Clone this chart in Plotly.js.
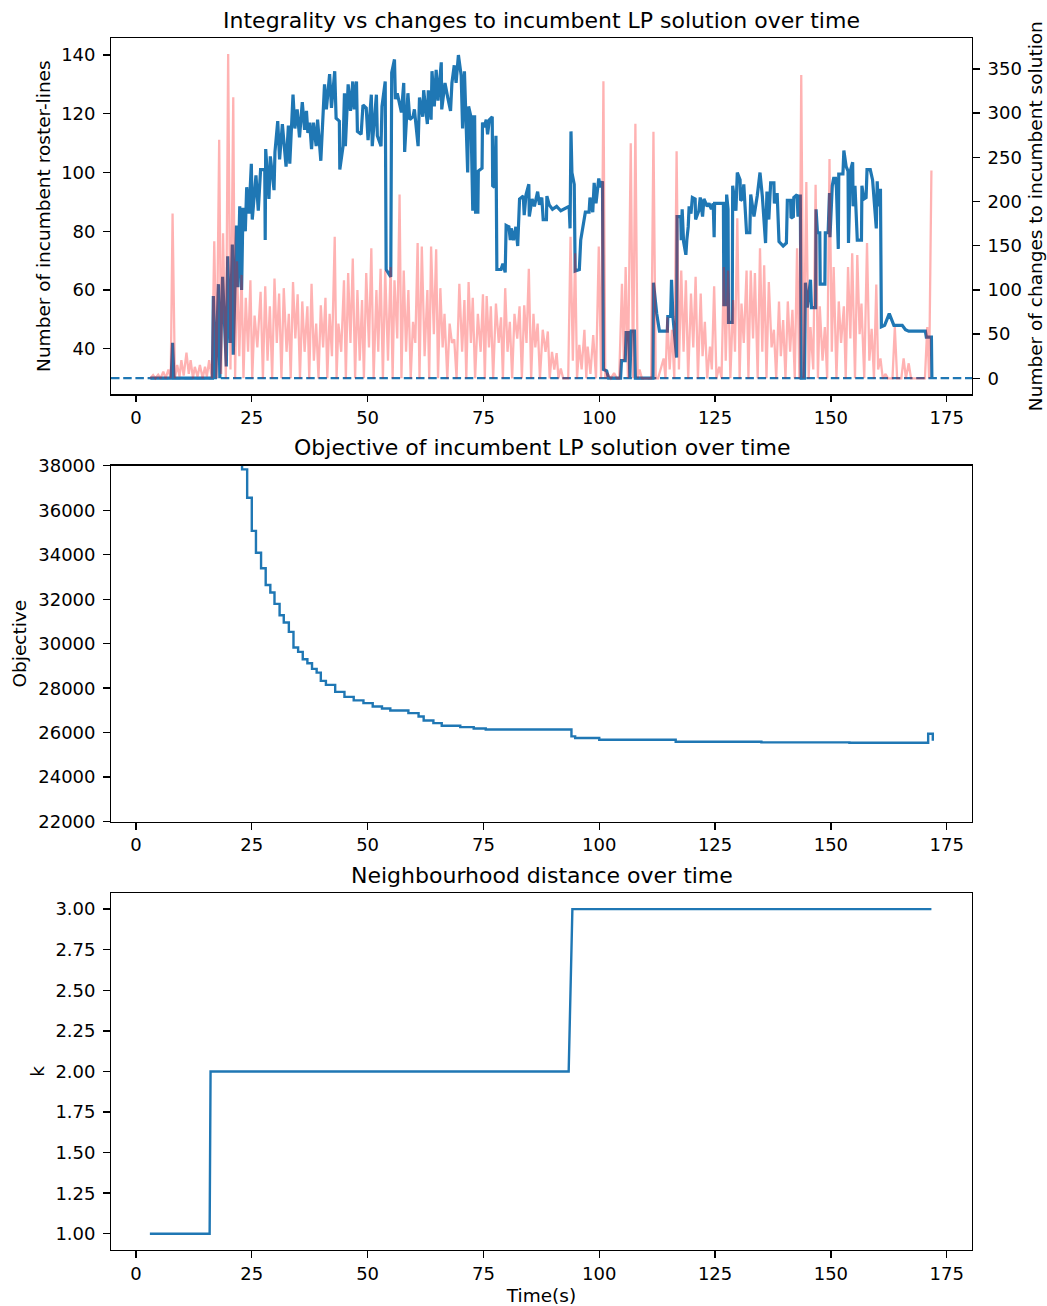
<!DOCTYPE html>
<html>
<head>
<meta charset="utf-8">
<script src="https://cdn.plot.ly/plotly-3.0.1.min.js"></script>
<style>html,body{margin:0;padding:0;background:#fff;}#chart{width:1047px;height:1306px;}</style>
</head>
<body>
<div id="chart"></div>
<script>
// ---------------- DATA ----------------
const timeTicks = [0, 25, 50, 75, 100, 125, 150, 175];
const integralityTicks = [40, 60, 80, 100, 120, 140];
const changesTicks = [0, 50, 100, 150, 200, 250, 300, 350];
const objectiveTicks = [22000, 24000, 26000, 28000, 30000, 32000, 34000, 36000, 38000];
const kTicks = [1.00, 1.25, 1.50, 1.75, 2.00, 2.25, 2.50, 2.75, 3.00];
const baselineRosterLines = 30;

// [time, number of incumbent roster-lines]
const integrality = [
[3.1,30],[7.6,30],[7.9,42],[8.2,30],[16.5,30],[16.7,58],[17.2,30],[17.8,62],[18.1,30],[18.7,64.5],[19.5,34],[19.8,71.5],[20.3,42],[20.8,75.5],[21.0,38],[21.7,82],[22.0,61],[22.4,88.5],[22.8,60],[23.1,88],[23.6,80],[23.9,95],[24.4,86],[24.9,103],[25.1,84],[25.9,99],[26.4,87],[26.9,101],[27.8,101],[27.9,77],[28.0,108],[28.7,91],[29.0,105.5],[29.8,94],[30.0,107],[30.6,117.5],[31.0,104.5],[31.6,116.5],[32.4,102],[32.9,116],[33.2,103],[33.9,126.5],[34.3,115],[34.8,121.5],[35.3,112],[35.9,124],[36.4,114.5],[36.8,121],[37.1,113.5],[37.5,117],[37.9,108],[38.3,117],[38.9,109],[39.2,118],[39.9,104],[40.2,116],[40.7,130],[41.1,121.5],[41.8,133.5],[42.2,122],[42.9,134.5],[43.2,118.5],[43.9,117.5],[44.0,101],[44.7,109],[45.0,127],[45.2,109],[45.8,130],[46.3,121],[46.8,131],[47.1,121.5],[47.6,131],[47.8,114],[48.6,113],[49.0,123],[49.7,122],[50.1,111],[50.8,126.5],[51.0,109],[51.9,126.5],[52.1,112.5],[52.9,109],[53.1,122.5],[53.8,131],[54.0,67],[55.0,64.5],[55.2,134],[55.8,138.5],[56.0,125],[56.4,127],[57.3,120.5],[57.8,130.5],[58.0,107],[58.7,127],[59.1,118],[59.8,119],[60.1,121.5],[60.9,109],[61.2,125.5],[61.9,119],[62.1,128],[62.9,116.5],[63.1,128],[63.7,118],[63.9,134.5],[64.4,122.5],[64.8,135],[65.2,124.5],[65.9,137.5],[66.0,121.5],[66.7,130.5],[67.3,125.5],[67.9,121],[68.2,130.5],[68.7,136.5],[69.1,130.5],[69.6,140],[70.2,133],[70.5,115],[70.9,134.5],[71.6,100],[71.8,122.5],[72.3,119],[72.7,87],[72.9,119],[73.1,119],[73.3,86.5],[73.8,86.5],[73.9,100.5],[74.7,101.5],[74.8,117],[75.2,115.5],[75.6,118],[75.9,113],[76.3,118],[76.9,119],[77.0,95.5],[77.4,95],[77.7,112.5],[77.9,67],[78.8,67],[79.2,69],[79.7,66],[79.9,82],[80.5,81.5],[80.8,77],[81.0,81],[81.5,77],[82.0,81.5],[82.4,75],[82.8,91],[83.6,92],[83.8,85.5],[84.2,92.5],[84.8,96],[84.9,85],[85.5,91],[86.0,88.5],[86.7,93.5],[87.1,89],[87.6,91.5],[87.9,84],[88.6,84],[88.7,92],[89.2,89],[89.9,87.5],[90.8,88.5],[91.7,87],[93.5,88.5],[93.7,81],[93.9,114],[94.1,100],[94.6,96],[94.8,66.5],[95.7,67],[96.0,77],[97.0,86.5],[97.8,86.5],[98.0,91.5],[98.6,86.5],[98.9,96.5],[99.3,89.5],[99.9,98],[100.2,95],[100.7,97],[100.9,33],[101.6,32.5],[102.0,30],[104.6,30],[104.8,36],[105.6,36],[105.8,45.5],[106.4,45.5],[106.6,30],[106.9,46],[107.6,46],[107.8,30],[111.6,30],[111.7,62.5],[112.4,52],[112.9,48],[113.0,46],[114.7,46],[114.8,51],[115.4,51],[115.6,63.5],[115.9,51],[116.7,37],[116.8,85],[117.6,85],[117.7,77],[117.9,87.5],[118.2,76.5],[118.7,72],[118.9,77],[119.2,81.5],[119.4,88.5],[119.8,86],[120.1,91.5],[120.7,91],[120.8,84],[121.5,87],[121.8,91.5],[122.3,85],[122.6,91],[123.3,88.5],[123.7,89.5],[124.2,87.5],[124.6,89.5],[124.8,78],[124.9,89.5],[126.8,89.5],[126.9,55],[127.3,55],[127.5,92.5],[127.8,87.5],[127.9,49],[128.7,49],[128.8,95.5],[129.1,92],[129.5,87],[129.8,100],[130.4,97.5],[130.5,90.5],[130.9,91],[131.2,96],[131.8,79.5],[132.5,79.5],[132.7,92.5],[133.4,85],[134.1,92],[134.7,100],[135.2,92],[135.9,76],[136.2,93.5],[136.6,84],[137.0,96.5],[137.7,96.5],[137.8,89.5],[138.4,93],[138.8,76.5],[139.7,75],[140.4,76],[140.6,90.5],[141.3,90.5],[141.4,84.5],[141.9,85],[142.0,91.5],[142.7,92.5],[142.9,85],[143.4,92.5],[143.6,30],[144.3,30],[144.5,62.5],[144.9,54],[145.6,63.5],[145.8,54],[146.7,54],[146.8,87.5],[147.1,79.5],[147.6,79.5],[147.7,62],[148.7,62],[148.8,79.5],[149.4,79.5],[149.7,93],[149.8,78],[150.3,95.5],[150.6,98],[151.0,98],[151.2,94.5],[151.6,74],[151.7,99.5],[152.6,99.5],[152.8,107.5],[153.3,102],[153.7,100.5],[153.8,76],[154.2,100.5],[154.7,103.5],[154.8,88.5],[155.2,95.5],[155.7,77],[156.6,77],[156.7,95.5],[157.1,91],[157.6,91.5],[157.8,101],[158.5,101],[159.0,97.5],[159.3,91.5],[159.8,81],[160.0,97],[160.2,88.5],[160.7,94.5],[160.9,47.5],[161.6,48],[162.6,52],[163.6,48],[165.4,48],[166.1,46.5],[166.8,46],[170.4,46],[170.6,44],[171.7,44],[171.8,30]
];

// [time, number of changes to incumbent solution]
const changes = [
[3.1,0],[3.7,3.7],[4.2,0],[4.8,4],[5.3,0],[5.9,7.5],[6.4,0],[7.0,10],[7.5,0],[7.9,186.5],[8.4,0],[8.9,15],[9.4,2],[9.8,20.5],[10.3,3],[10.9,29],[11.4,5],[11.8,20.5],[12.3,0],[12.7,13],[13.3,2],[13.8,15],[14.4,0],[14.9,13],[15.3,2],[15.8,20.5],[16.4,0],[16.9,155],[17.4,0],[17.96,270],[18.4,5],[18.8,164],[19.4,0],[19.9,367],[20.4,10],[21.0,318],[21.4,0],[21.8,132.5],[22.3,25],[22.8,117],[23.2,0],[23.7,91],[24.2,30],[24.7,111],[25.1,0],[25.6,71],[26.2,35],[26.9,98],[27.4,0],[27.9,104],[28.4,20],[28.9,81.5],[29.4,0],[29.9,113],[30.4,40],[30.9,96],[31.4,0],[31.9,102],[32.5,30],[33.0,73],[33.4,0],[33.9,109],[34.4,45],[34.9,95],[35.4,0],[35.9,87],[36.4,30],[37.0,81.5],[37.4,0],[37.9,107],[38.4,20],[38.9,62],[39.4,0],[39.9,82.5],[40.4,35],[40.9,91],[41.3,0],[41.8,73],[42.3,25],[42.9,160],[43.3,0],[43.7,62],[44.3,30],[44.9,111],[45.3,0],[45.8,119],[46.3,40],[46.8,135.5],[47.3,0],[47.8,100],[48.3,20],[48.8,88.5],[49.2,0],[49.7,119],[50.3,35],[50.8,147],[51.3,0],[51.9,100],[52.3,30],[52.8,124],[53.3,0],[53.8,122],[54.4,20],[54.96,126],[55.4,0],[55.8,111],[56.4,45],[56.9,208],[57.3,0],[57.8,122],[58.3,30],[58.8,100],[59.3,0],[59.8,64],[60.3,40],[60.8,153],[61.2,0],[61.7,149],[62.3,25],[62.9,100],[63.3,0],[63.7,149],[64.3,50],[64.8,146],[65.2,0],[65.7,102],[66.2,35],[66.6,73],[67.2,0],[67.7,62],[68.2,40],[68.7,44],[69.2,0],[69.8,107],[70.4,30],[70.9,88.5],[71.3,0],[71.8,109],[72.3,40],[72.7,91],[73.2,0],[73.8,73],[74.4,30],[74.9,95],[75.3,0],[75.7,93],[76.2,35],[76.6,81.5],[77.1,0],[77.7,84.5],[78.3,40],[78.8,69],[79.2,0],[79.7,102],[80.2,30],[80.7,64],[81.2,0],[81.7,73],[82.3,45],[82.8,81.5],[83.3,0],[83.8,82.5],[84.3,40],[84.8,124],[85.3,0],[85.8,73],[86.2,35],[86.7,62],[87.2,0],[87.8,55],[88.4,30],[88.9,53],[89.3,0],[89.8,30],[90.3,10],[90.8,28.5],[91.2,0],[91.7,11],[92.2,0],[93.3,0],[93.8,160],[94.3,20],[94.8,141.5],[95.2,0],[95.7,38],[96.2,10],[96.8,55],[97.2,0],[97.5,36],[98.1,5],[98.7,49],[99.3,0],[99.9,149],[100.4,0],[100.9,336],[101.3,0],[101.8,5],[102.5,0],[103.2,6],[103.8,0],[104.3,0],[104.9,107],[105.3,20],[105.7,126],[106.2,0],[106.8,266],[107.3,0],[107.8,288],[108.3,0],[108.7,10],[109.2,0],[111.2,0],[111.7,279],[112.2,0],[112.7,0],[113.3,10],[113.9,22.5],[114.3,0],[114.7,69],[115.2,10],[115.7,55],[116.2,0],[116.7,257],[117.2,10],[117.7,122],[118.2,30],[118.7,111],[119.2,0],[119.8,96],[120.3,35],[120.8,115],[121.3,0],[121.9,96],[122.3,25],[122.8,64],[123.3,0],[123.9,36],[124.3,10],[124.8,104],[125.3,0],[125.9,13],[126.4,0],[126.9,126],[127.3,20],[127.8,122],[128.3,0],[128.9,88.5],[129.3,30],[129.8,181],[130.3,0],[130.7,84.5],[131.2,40],[131.8,122],[132.2,0],[132.7,122],[133.2,45],[133.6,119],[134.2,0],[134.7,147],[135.2,30],[135.6,128],[136.1,0],[136.6,109],[137.2,35],[137.7,55],[138.2,0],[138.8,87],[139.2,25],[139.7,66],[140.2,0],[140.7,87],[141.2,30],[141.7,77.5],[142.2,0],[142.7,147],[143.2,0],[143.6,343],[144.1,0],[144.7,222],[145.2,0],[145.6,58],[146.2,10],[146.7,219],[147.2,0],[147.6,81.5],[148.2,20],[148.7,58],[149.2,0],[149.7,248],[150.2,30],[150.6,126],[151.2,0],[151.7,87],[152.2,40],[152.8,81.5],[153.2,0],[153.7,126],[154.2,45],[154.6,141.5],[155.2,0],[155.7,139.5],[156.2,50],[156.6,84.5],[157.2,0],[157.8,153],[158.3,20],[158.8,56],[159.3,0],[159.8,106],[160.2,10],[160.7,22.5],[161.2,0],[161.8,5],[162.3,0],[163.3,0],[163.8,58],[164.3,0],[165.2,0],[165.7,22.5],[166.2,0],[166.8,17],[167.3,0],[170.3,0],[170.8,58],[171.2,0],[171.7,235]
];

// [time, objective] (step changes)
const objective = [
[20.0,41000],[22.9,37835],[24.0,36560],[25.0,35070],[25.9,34090],[27.0,33390],[28.0,32640],[29.0,32300],[29.9,31790],[31.0,31280],[31.9,30950],[33.0,30530],[34.0,29830],[35.0,29630],[36.0,29300],[37.0,29120],[38.0,28870],[39.0,28700],[39.9,28330],[41.0,28150],[43.0,27835],[45.0,27610],[47.0,27450],[49.1,27330],[51.1,27180],[53.1,27090],[54.9,27000],[58.8,26880],[61.0,26730],[62.1,26550],[64.2,26430],[66.0,26310],[70.0,26250],[72.9,26190],[75.5,26140],[94.0,25835],[94.8,25760],[100.0,25685],[116.5,25595],[135.0,25566],[154.0,25550],[171.0,25955],[172.0,25640]
];

// [time, k]
const neighbourhood = [[3.0,1],[15.9,1],[16.1,2],[93.4,2],[94.2,3],[171.7,3]];

// ---------------- CHART ----------------
const FONT = 'DejaVu Sans';
const tickFont = {family: FONT, size: 18, color: '#000'};
const labelFont = {family: FONT, size: 18.5, color: '#000'};
const xRange = [-5.39, 180.46];

function axisBase(standoff) {
  return {
    showline: true, linecolor: '#000', linewidth: 1.4, mirror: true,
    ticks: 'outside', ticklen: 6.5, tickwidth: 1.4, tickcolor: '#000',
    tickfont: tickFont, showgrid: false, zeroline: false, ticklabelstandoff: standoff
  };
}

const traces = [
  {x: integrality.map(d => d[0]), y: integrality.map(d => d[1]), xaxis: 'x', yaxis: 'y',
   type: 'scatter', mode: 'lines', line: {color: '#1f77b4', width: 3.2}, hoverinfo: 'skip'},
  {x: changes.map(d => d[0]), y: changes.map(d => d[1]), xaxis: 'x', yaxis: 'y2',
   type: 'scatter', mode: 'lines', line: {color: 'rgba(255,0,0,0.3)', width: 2.3}, hoverinfo: 'skip'},
  {x: objective.map(d => d[0]), y: objective.map(d => d[1]), xaxis: 'x2', yaxis: 'y3',
   type: 'scatter', mode: 'lines', line: {color: '#1f77b4', width: 2.4, shape: 'hv'}, hoverinfo: 'skip'},
  {x: neighbourhood.map(d => d[0]), y: neighbourhood.map(d => d[1]), xaxis: 'x3', yaxis: 'y4',
   type: 'scatter', mode: 'lines', line: {color: '#1f77b4', width: 2.4}, hoverinfo: 'skip'}
];

const layout = {
  width: 1047, height: 1306,
  margin: {l: 111, r: 75, t: 38, b: 56},
  paper_bgcolor: '#fff', plot_bgcolor: '#fff',
  font: {family: FONT, color: '#000'},
  showlegend: false,
  title: {text: 'Integrality vs changes to incumbent LP solution over time',
          font: {family: FONT, size: 22, color: '#000'},
          x: 0.5, xref: 'paper', xanchor: 'center', y: 1 - 28 / 1306, yref: 'container', yanchor: 'bottom'},
  xaxis: Object.assign(axisBase(0), {domain: [0, 1], anchor: 'y', range: xRange, tickvals: timeTicks}),
  yaxis: Object.assign(axisBase(4), {domain: [0.706, 1], anchor: 'x', range: [24.5, 145.8], tickvals: integralityTicks,
          title: {text: 'Number of incumbent roster-lines', font: labelFont, standoff: 5}}),
  yaxis2: Object.assign(axisBase(4), {overlaying: 'y', side: 'right', anchor: 'x', range: [-18.1, 385], tickvals: changesTicks, mirror: false,
          title: {text: 'Number of changes to incumbent solution', font: labelFont, standoff: 8}}),
  xaxis2: Object.assign(axisBase(0), {domain: [0, 1], anchor: 'y3', range: xRange, tickvals: timeTicks}),
  yaxis3: Object.assign(axisBase(4), {domain: [0.3534, 0.6471], anchor: 'x2', range: [22000, 38000], tickvals: objectiveTicks, tickformat: 'd',
          title: {text: 'Objective', font: labelFont, standoff: 6}}),
  xaxis3: Object.assign(axisBase(0), {domain: [0, 1], anchor: 'y4', range: xRange, tickvals: timeTicks,
          title: {text: 'Time(s)', font: labelFont, standoff: 10}}),
  yaxis4: Object.assign(axisBase(4), {domain: [0, 0.2946], anchor: 'x3', range: [0.9, 3.1], tickvals: kTicks, tickformat: '.2f',
          title: {text: 'k', font: labelFont, standoff: 6}}),
  shapes: [
    {type: 'line', xref: 'x domain', x0: 0, x1: 1, yref: 'y', y0: baselineRosterLines, y1: baselineRosterLines,
     line: {color: '#1f77b4', width: 2.3, dash: '8.5px,3.7px'}, layer: 'below'}
  ],
  annotations: [
    {text: 'Objective of incumbent LP solution over time', xref: 'paper', yref: 'paper', x: 0.5, y: 0.6499,
     xanchor: 'center', yanchor: 'bottom', showarrow: false, font: {family: FONT, size: 22, color: '#000'}},
    {text: 'Neighbourhood distance over time', xref: 'paper', yref: 'paper', x: 0.5, y: 0.2973,
     xanchor: 'center', yanchor: 'bottom', showarrow: false, font: {family: FONT, size: 22, color: '#000'}}
  ]
};

Plotly.newPlot('chart', traces, layout, {staticPlot: true, displayModeBar: false});
</script>
</body>
</html>
